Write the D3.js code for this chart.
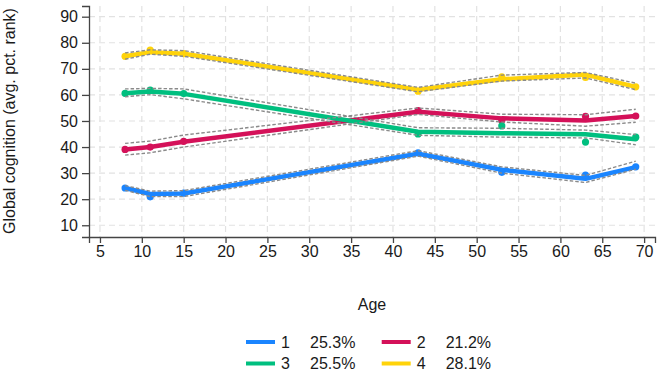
<!DOCTYPE html>
<html>
<head>
<meta charset="utf-8">
<script src="https://cdn.jsdelivr.net/npm/d3@7"></script>
<style>
body{margin:0;background:#fff;font-family:'Liberation Sans',Arial,sans-serif}
svg text{fill:#1a1a1a}
</style>
</head>
<body>
<div id="chart"></div>
<script>
// ages where the trajectories were measured
const ages = [8, 11, 15, 43, 53, 63, 69];

const groups = ["1", "2", "3", "4"];
const shares = ["25.3%", "21.2%", "25.5%", "28.1%"];
const colors = ["#1a85ff", "#d41159", "#00bf7f", "#ffd30a"];

// fitted trajectory per group
const fit1 = [24.3, 22.0, 22.2, 37.4, 31.3, 27.8, 32.3];
const fit2 = [39.1, 40.0, 42.0, 53.5, 51.0, 50.2, 51.9];
const fit3 = [60.6, 61.3, 60.4, 45.9, 45.3, 44.9, 43.0];
const fit4 = [74.8, 76.4, 75.8, 62.0, 66.0, 67.8, 63.1];

// observed means (dots)
const obs1 = [24.3, 20.9, 22.3, 37.8, 30.3, 29.2, 32.4];
const obs2 = [39.1, 40.0, 42.2, 54.0, 50.3, 51.8, 51.9];
const obs3 = [60.6, 61.8, 60.5, 45.0, 48.1, 41.9, 43.8];
const obs4 = [74.8, 77.2, 75.8, 61.4, 66.9, 66.7, 63.1];

// confidence bounds
const lo1 = [23.4, 21.0, 21.0, 36.5, 30.0, 26.4, 31.5];
const hi1 = [25.2, 23.1, 23.3, 38.6, 32.4, 29.1, 34.6];
const lo2 = [36.9, 37.8, 40.0, 52.5, 49.6, 48.0, 49.5];
const hi2 = [41.4, 42.3, 44.6, 55.0, 52.6, 52.4, 54.5];
const lo3 = [59.3, 60.1, 58.5, 44.5, 43.8, 43.5, 40.9];
const hi3 = [62.3, 62.5, 62.3, 47.4, 47.2, 46.5, 44.8];
const lo4 = [73.7, 75.6, 74.8, 61.2, 65.3, 66.5, 62.0];
const hi4 = [76.1, 77.3, 77.0, 62.9, 67.6, 68.6, 64.5];

const xTicks = d3.range(5, 71, 5);
const yTicks = d3.range(10, 91, 10);

const fits = [fit1, fit2, fit3, fit4];
const obss = [obs1, obs2, obs3, obs4];
const los = [lo1, lo2, lo3, lo4];
const his = [hi1, hi2, hi3, hi4];

const W = 657, H = 374;
const FS = 16;
const svg = d3.select("#chart").append("svg").attr("width", W).attr("height", H);

const x = d3.scaleLinear().domain([3.69, 71.3]).range([89, 655]);
const y = d3.scaleLinear().domain([5.5, 94.1]).range([237, 6]);

// grid
const grid = svg.append("g").attr("stroke", "#e2e2e2").attr("stroke-width", 1.2).attr("stroke-dasharray", "6,4");
grid.selectAll("line.v").data(xTicks).enter().append("line")
    .attr("x1", d => x(d)).attr("x2", d => x(d)).attr("y1", 6).attr("y2", 237);
grid.selectAll("line.h").data(yTicks).enter().append("line")
    .attr("x1", 89).attr("x2", 655).attr("y1", d => y(d)).attr("y2", d => y(d));

// axes
const yAxis = svg.append("g").attr("transform", "translate(89,0)")
    .call(d3.axisLeft(y).tickValues(yTicks).tickSize(7).tickPadding(4));
const xAxis = svg.append("g").attr("transform", "translate(0,237)")
    .call(d3.axisBottom(x).tickValues(xTicks).tickSize(6).tickPadding(3));
[xAxis, yAxis].forEach(a => {
  a.select(".domain").attr("stroke", "#444").attr("stroke-width", 1.3);
  a.selectAll(".tick line").attr("stroke", "#444").attr("stroke-width", 1.3);
  a.selectAll(".tick text").attr("font-size", FS).attr("font-family", "'Liberation Sans',Arial,sans-serif").attr("fill", "#1a1a1a");
});

const line = d3.line().x((d, i) => x(ages[i])).y(d => y(d));

groups.forEach((g, k) => {
  svg.append("path").datum(fits[k]).attr("d", line)
    .attr("fill", "none").attr("stroke", colors[k]).attr("stroke-width", 4.5)
    .attr("stroke-linejoin", "round").attr("stroke-linecap", "round");
  svg.append("g").selectAll("circle").data(obss[k]).enter().append("circle")
    .attr("cx", (d, i) => x(ages[i])).attr("cy", d => y(d)).attr("r", 3.6)
    .attr("fill", colors[k]);
});

groups.forEach((g, k) => {
  [los[k], his[k]].forEach(b => {
    svg.append("path").datum(b).attr("d", line)
      .attr("fill", "none").attr("stroke", "#8a8a8a").attr("stroke-width", 1.4)
      .attr("stroke-dasharray", "3.5,2");
  });
});

// titles
svg.append("text").attr("transform", "translate(15,121) rotate(-90)")
  .attr("text-anchor", "middle").attr("font-size", FS).text("Global cognition (avg. pct. rank)");
svg.append("text").attr("x", 372).attr("y", 310).attr("text-anchor", "middle")
  .attr("font-size", FS).text("Age");

// legend
const legend = svg.append("g");
groups.forEach((g, k) => {
  const col = k % 2, row = Math.floor(k / 2);
  const lx = 246 + col * 135.7, ly = 342 + row * 21.5;
  legend.append("line").attr("x1", lx).attr("x2", lx + 29).attr("y1", ly).attr("y2", ly)
    .attr("stroke", colors[k]).attr("stroke-width", 4);
  legend.append("text").attr("x", lx + 35).attr("y", ly + 5.8).attr("font-size", FS).text(g);
  legend.append("text").attr("x", lx + 64).attr("y", ly + 5.8).attr("font-size", FS).text(shares[k]);
});
</script>
</body>
</html>
